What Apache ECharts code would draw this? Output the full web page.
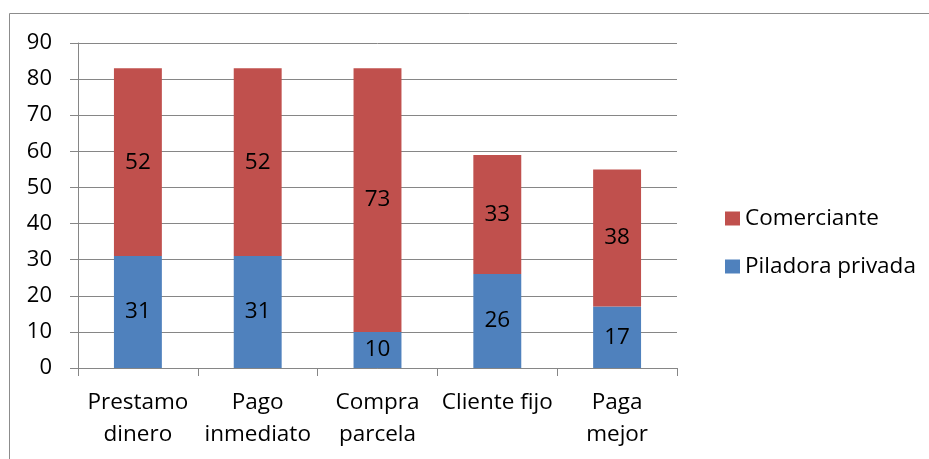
<!DOCTYPE html>
<html>
<head>
<meta charset="utf-8">
<script src="https://cdn.jsdelivr.net/npm/echarts@6/dist/echarts.min.js"></script>
<style>
html,body{margin:0;padding:0;background:#fff;}
#chart{width:929px;height:459px;}
</style>
</head>
<body>
<div id="chart"></div>
<script>
var categories = ['Prestamo\ndinero', 'Pago\ninmediato', 'Compra\nparcela', 'Cliente fijo', 'Paga\nmejor'];
var piladoraPrivada = [31, 31, 10, 26, 17];
var comerciante = [52, 52, 73, 33, 38];
var yTicks = [0, 10, 20, 30, 40, 50, 60, 70, 80, 90];

var FONT = 'Open Sans';
var chart = echarts.init(document.getElementById('chart'));
chart.setOption({
  animation: false,
  backgroundColor: '#fff',
  textStyle: { fontFamily: FONT },
  graphic: [{
    type: 'rect',
    shape: { x: 9.5, y: 13.5, width: 1000, height: 1000 },
    style: { fill: 'none', stroke: '#8c8c8c', lineWidth: 1 },
    silent: true
  }],
  grid: { left: 78, right: 252, top: 43, bottom: 91 },
  legend: {
    orient: 'vertical',
    left: 720,
    top: 202,
    itemWidth: 15,
    itemHeight: 14,
    itemGap: 25,
    icon: 'rect',
    data: ['Comerciante', 'Piladora privada'],
    textStyle: { fontFamily: FONT, fontSize: 22.5, color: '#000' }
  },
  xAxis: {
    type: 'category',
    data: categories,
    axisLine: { show: true, lineStyle: { color: '#868686', width: 1 } },
    axisTick: { show: true, length: 8, lineStyle: { color: '#868686' } },
    axisLabel: { fontFamily: FONT, fontSize: 22.5, color: '#000', lineHeight: 32, margin: 19, interval: 0 },
    splitLine: { show: false }
  },
  yAxis: {
    type: 'value',
    min: yTicks[0],
    max: yTicks[yTicks.length - 1],
    interval: 10,
    axisLine: { show: true, lineStyle: { color: '#868686', width: 1 } },
    axisTick: { show: true, length: 8, lineStyle: { color: '#868686' } },
    axisLabel: { fontFamily: FONT, fontSize: 22, color: '#000', margin: 26 },
    splitLine: { show: true, lineStyle: { color: '#868686', width: 1 } }
  },
  series: [
    {
      name: 'Piladora privada',
      type: 'bar',
      stack: 'total',
      data: piladoraPrivada,
      barCategoryGap: '60%',
      itemStyle: { color: '#4F81BD' },
      label: { show: true, position: 'inside', color: '#000', fontFamily: FONT, fontSize: 22.5 }
    },
    {
      name: 'Comerciante',
      type: 'bar',
      stack: 'total',
      data: comerciante,
      barCategoryGap: '60%',
      itemStyle: { color: '#C0504D' },
      label: { show: true, position: 'inside', color: '#000', fontFamily: FONT, fontSize: 22.5 }
    }
  ]
});
</script>
</body>
</html>
